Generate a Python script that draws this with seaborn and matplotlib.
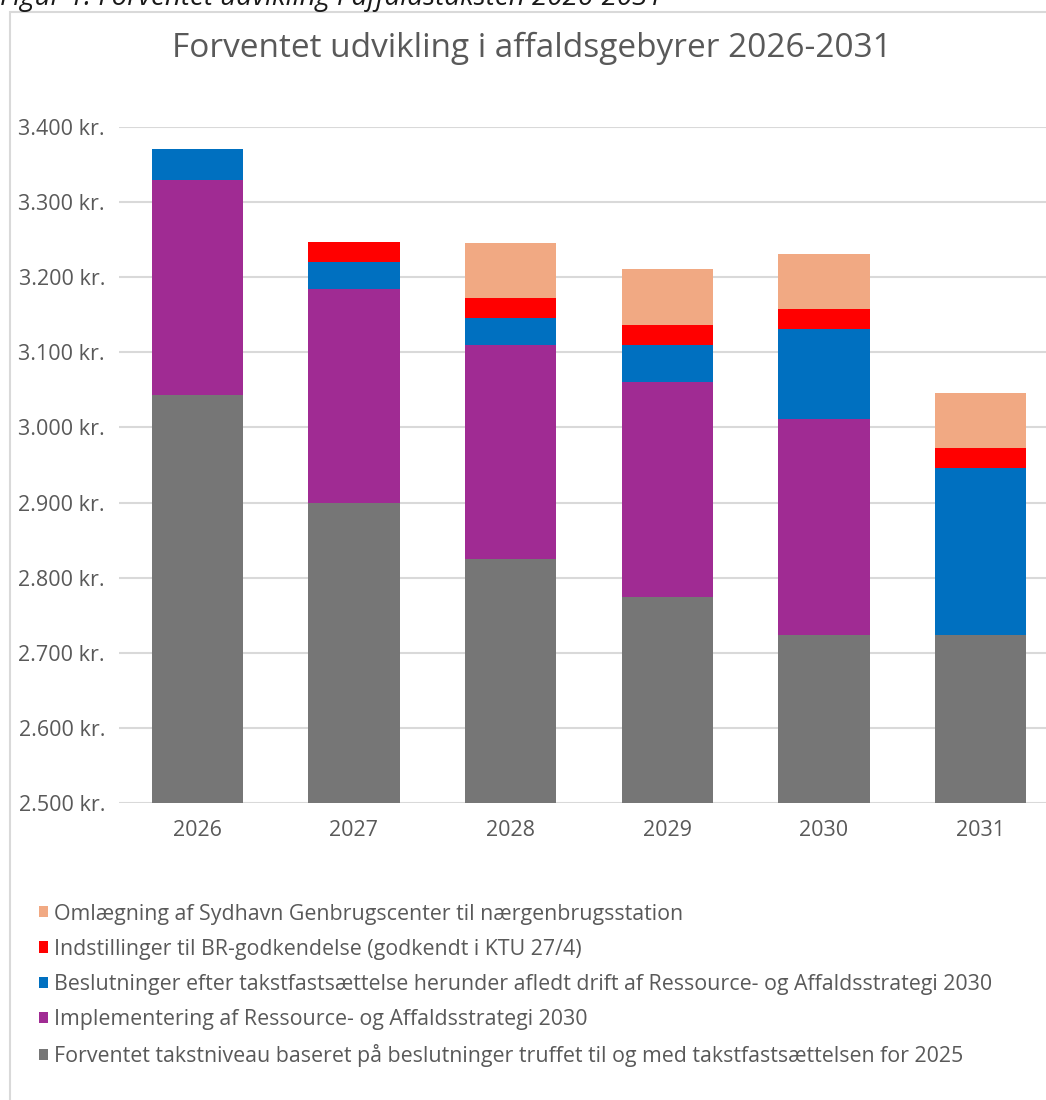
import matplotlib
matplotlib.use("Agg")
import matplotlib.pyplot as plt
import seaborn as sns
import pandas as pd
import numpy as np
from matplotlib.patches import Patch, Rectangle
from matplotlib.ticker import FuncFormatter

years = ["2026", "2027", "2028", "2029", "2030", "2031"]
base = [3043, 2900, 2825, 2774, 2724, 2724]
strategy = [286, 284, 285, 287, 287, 0]
decisions = [42, 36, 36, 49, 120, 222]
recommendations = [0, 27, 26, 27, 27, 27]
sydhavn = [0, 0, 73, 74, 73, 73]

series_names = [
    "Forventet takstniveau baseret på beslutninger truffet til og med takstfastsættelsen for 2025",
    "Implementering af Ressource- og Affaldsstrategi 2030",
    "Beslutninger efter takstfastsættelse herunder afledt drift af Ressource- og Affaldsstrategi 2030",
    "Indstillinger til BR-godkendelse (godkendt i KTU 27/4)",
    "Omlægning af Sydhavn Genbrugscenter til nærgenbrugsstation",
]
colors = ["#767676", "#A02B93", "#0070C0", "#FF0000", "#F1A983"]
title = "Forventet udvikling i affaldsgebyrer 2026-2031"
caption = "Figur 1: Forventet udvikling i affaldstaksten 2026-2031"

sns.set_theme(style="white")
plt.rcParams["font.family"] = ["Open Sans", "DejaVu Sans"]

fig = plt.figure(figsize=(10.46, 11.0), dpi=100)
W, H = 1046, 1100

# outer frame
fig.add_artist(Rectangle((10 / W, -0.01), 1.05, (H - 12) / H + 0.01, transform=fig.transFigure,
                         fill=False, edgecolor="#d9d9d9", linewidth=1.5))
fig.text(0 / W, 1 - 5 / H, caption, fontsize=20, style="italic", color="#1a1a1a",
         ha="left", va="baseline")

ax = fig.add_axes([119 / W, (H - 803) / H, 940 / W, 676 / H])

layers = [base, strategy, decisions, recommendations, sydhavn]
cum = np.cumsum(np.array(layers, dtype=float), axis=0)
# draw from top cumulative to bottom so that lower layers overlay
for i in range(len(layers) - 1, -1, -1):
    df = pd.DataFrame({"year": years, "value": cum[i]})
    sns.barplot(data=df, x="year", y="value", color=colors[i], saturation=1,
                width=0.585, ax=ax, zorder=3, edgecolor="none", linewidth=0)

ax.set_ylim(2500, 3400)
ax.set_yticks(np.arange(2500, 3401, 100))
ax.yaxis.set_major_formatter(FuncFormatter(lambda v, p: f"{int(v):,} kr.".replace(",", ".")))
ax.grid(axis="y", color="#d9d9d9", linewidth=1.5, zorder=0)
ax.grid(axis="x", visible=False)
for s in ax.spines.values():
    s.set_visible(False)
ax.set_xlabel("")
ax.set_ylabel("")
ax.tick_params(axis="y", labelsize=15.5, labelcolor="#595959", length=0, pad=10)
ax.tick_params(axis="x", labelsize=15.5, labelcolor="#595959", length=0, pad=12)
for lab in ax.get_yticklabels():
    lab.set_horizontalalignment("right")

fig.text(532 / W, 1 - 48 / H, title, fontsize=24, color="#595959", ha="center", va="center")

handles = [Patch(facecolor=colors[i], edgecolor="none", label=series_names[i]) for i in range(4, -1, -1)]
fig.legend(handles=handles, loc="upper left", bbox_to_anchor=(30 / W, 1 - 895 / H),
           frameon=False, fontsize=15.4, handlelength=0.42, handleheight=0.42,
           handletextpad=0.3, labelspacing=0.66, labelcolor="#595959", borderaxespad=0)

fig.savefig("out.png", dpi=100)
